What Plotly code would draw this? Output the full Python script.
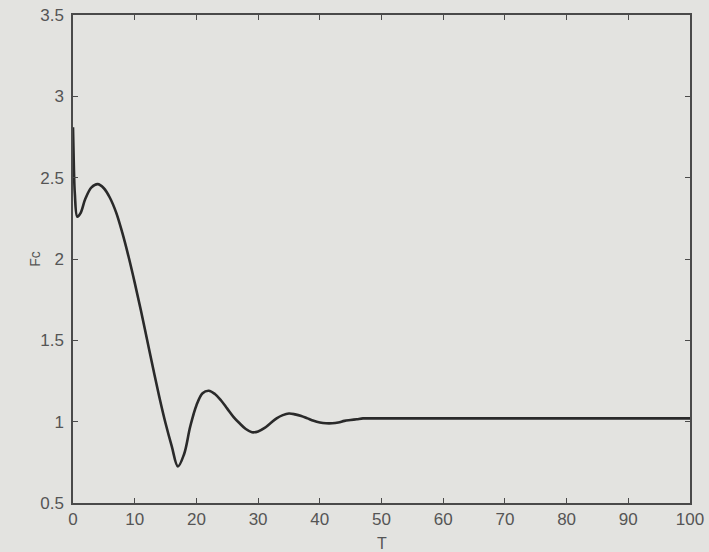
import plotly.graph_objects as go

# Time values (T) and response values (Fc)
T = [0, 0.15, 0.3, 0.7, 1.2, 2, 3, 4, 5, 6, 7, 8, 9, 10, 11, 12, 13, 14, 15, 16,
     17, 18, 19, 20, 21, 22, 23, 24, 25, 26, 27, 28, 29, 30, 31, 32, 33, 34, 35,
     36, 37, 38, 39, 40, 41, 42, 43, 44, 45, 46, 47, 48, 50, 60, 70, 80, 90, 100]
Fc = [2.81, 2.55, 2.40, 2.26, 2.28, 2.37, 2.44, 2.46, 2.435, 2.375, 2.285, 2.16,
      2.015, 1.855, 1.685, 1.505, 1.325, 1.15, 0.99, 0.85, 0.725, 0.80, 0.97, 1.10,
      1.175, 1.19, 1.17, 1.13, 1.08, 1.03, 0.99, 0.955, 0.935, 0.94, 0.96, 0.99,
      1.02, 1.04, 1.05, 1.045, 1.035, 1.02, 1.005, 0.995, 0.99, 0.99, 0.995, 1.005,
      1.01, 1.015, 1.02, 1.02, 1.02, 1.02, 1.02, 1.02, 1.02, 1.02]

x_ticks = [0, 10, 20, 30, 40, 50, 60, 70, 80, 90, 100]
y_ticks = [0.5, 1, 1.5, 2, 2.5, 3, 3.5]
y_tick_labels = ["0.5", "1", "1.5", "2", "2.5", "3", "3.5"]
x_title = "T"
y_title = "Fc"

bg = "#e3e3e0"
axis_col = "#4a4a4a"
text_col = "#555555"

fig = go.Figure()
fig.add_trace(go.Scatter(
    x=T, y=Fc, mode="lines",
    line=dict(color="#2a2a2a", width=2.6, shape="spline", smoothing=1.0),
    showlegend=False,
))

fig.update_layout(
    width=709, height=552,
    paper_bgcolor=bg, plot_bgcolor=bg,
    margin=dict(l=73, r=19, t=15, b=49),
    font=dict(family="Liberation Sans, Arial, sans-serif", size=17, color=text_col),
    annotations=[
        dict(text=x_title, xref="paper", yref="paper", x=0.5, y=-0.082,
             xanchor="center", yanchor="middle", showarrow=False,
             font=dict(size=16, color=text_col)),
        dict(text=y_title, xref="paper", yref="paper", x=-0.062, y=0.5,
             xanchor="center", yanchor="middle", showarrow=False,
             textangle=-90, font=dict(size=14, color=text_col)),
    ],
)
fig.update_xaxes(
    range=[0, 100], tickvals=x_ticks, ticks="inside", ticklen=5,
    tickcolor=axis_col, showline=True, linecolor=axis_col, linewidth=1.5,
    mirror="ticks", showgrid=False, zeroline=False, automargin=False,
    ticklabelstandoff=0,
)
fig.update_yaxes(
    range=[0.5, 3.5], tickvals=y_ticks, ticktext=y_tick_labels, ticks="inside",
    ticklen=5, tickcolor=axis_col, showline=True, linecolor=axis_col,
    linewidth=1.5, mirror="ticks", showgrid=False, zeroline=False,
    automargin=False, ticklabelstandoff=4,
)

fig.write_html(
    "out.html",
    config={"displayModeBar": False},
    post_script=(
        "document.body.style.margin='0';"
        "document.body.style.padding='0';"
        "document.body.style.background='" + bg + "';"
    ),
)
